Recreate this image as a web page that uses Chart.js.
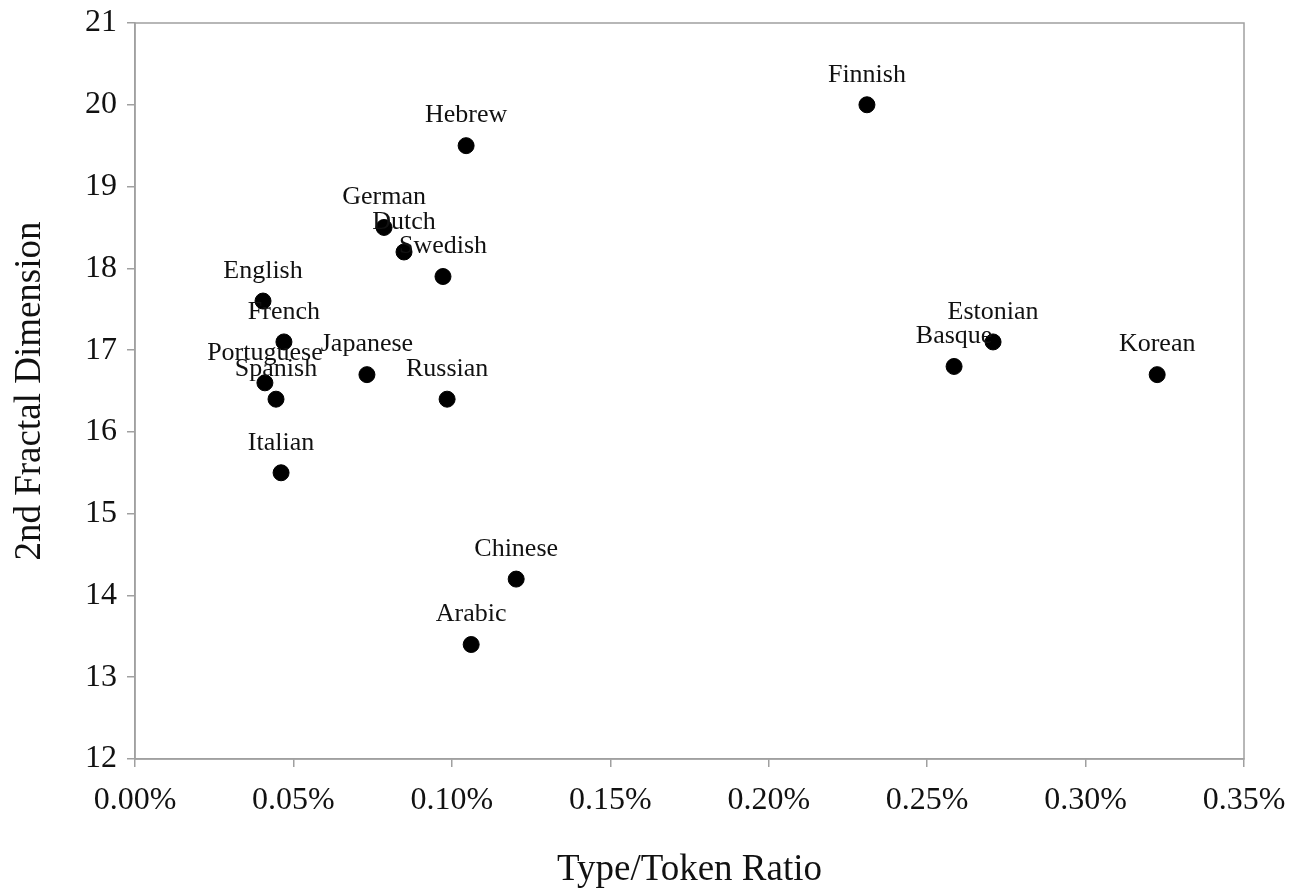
<!DOCTYPE html>
<html>
<head>
<meta charset="utf-8">
<script src="https://cdn.jsdelivr.net/npm/chart.js@4.4.0/dist/chart.umd.min.js"></script>
<style>
  html, body { margin: 0; padding: 0; background: #fff; }
  #wrap { width: 1305px; height: 892px; }
</style>
</head>
<body>
<div id="wrap"><canvas id="chart" width="1305" height="892"></canvas></div>
<script>
// languages and their values (type/token ratio in %, 2nd fractal dimension)
const languages = ['Finnish', 'Hebrew', 'German', 'Dutch', 'Swedish', 'English', 'French',
  'Portuguese', 'Spanish', 'Japanese', 'Russian', 'Italian', 'Chinese', 'Arabic',
  'Estonian', 'Basque', 'Korean'];
const typeToken = [0.231, 0.1045, 0.0786, 0.0849, 0.0972, 0.0404, 0.047,
  0.041, 0.0445, 0.0732, 0.0985, 0.0461, 0.1203, 0.1061,
  0.2708, 0.2585, 0.3226];
const fractalDim = [20.0, 19.5, 18.5, 18.2, 17.9, 17.6, 17.1,
  16.6, 16.4, 16.7, 16.4, 15.5, 14.2, 13.4,
  17.1, 16.8, 16.7];

const xTicks = { min: 0, max: 0.35, step: 0.05 };
const yTicks = { min: 12, max: 21, step: 1 };

const FONT = '"Liberation Serif", "DejaVu Serif", serif';
const AXIS_GRAY = '#a0a0a0';

const points = languages.map((name, i) => ({ x: typeToken[i], y: fractalDim[i], name }));

// names drawn just above each dot
const pointLabels = {
  id: 'pointLabels',
  afterDatasetsDraw(chart) {
    const ctx = chart.ctx;
    const meta = chart.getDatasetMeta(0);
    ctx.save();
    ctx.font = '26px ' + FONT;
    ctx.fillStyle = '#111';
    ctx.textAlign = 'center';
    ctx.textBaseline = 'middle';
    meta.data.forEach((el, i) => {
      ctx.fillText(points[i].name, el.x, el.y - 30);
    });
    ctx.restore();
  }
};

// thin box round the plot area
const frame = {
  id: 'frame',
  beforeDatasetsDraw(chart) {
    const { ctx, chartArea: a } = chart;
    ctx.save();
    ctx.strokeStyle = AXIS_GRAY;
    ctx.lineWidth = 1.5;
    ctx.strokeRect(a.left, a.top, a.right - a.left, a.bottom - a.top);
    ctx.restore();
  }
};

new Chart(document.getElementById('chart').getContext('2d'), {
  type: 'scatter',
  data: {
    datasets: [{
      data: points,
      backgroundColor: '#000',
      borderColor: '#000',
      pointRadius: 8,
      pointHoverRadius: 8
    }]
  },
  options: {
    responsive: false,
    animation: false,
    layout: { padding: { top: 23, right: 61, left: 0, bottom: 0 } },
    plugins: { legend: { display: false }, tooltip: { enabled: false } },
    scales: {
      x: {
        type: 'linear',
        min: xTicks.min,
        max: xTicks.max,
        afterFit: s => { s.height = 133; },
        ticks: {
          stepSize: xTicks.step,
          color: '#111',
          padding: 14,
          font: { family: FONT, size: 32 },
          callback: v => v.toFixed(2) + '%'
        },
        grid: { drawOnChartArea: false, drawTicks: true, tickLength: 8, color: AXIS_GRAY, lineWidth: 1.5 },
        border: { color: AXIS_GRAY, width: 1.5 },
        title: {
          display: true,
          text: 'Type/Token Ratio',
          color: '#111',
          font: { family: FONT, size: 37 },
          padding: { top: 0, bottom: 0 }
        }
      },
      y: {
        min: yTicks.min,
        max: yTicks.max,
        afterFit: s => { s.width = 135; s.paddingTop = 0; },
        ticks: {
          stepSize: yTicks.step,
          color: '#111',
          padding: 10,
          font: { family: FONT, size: 32 }
        },
        grid: { drawOnChartArea: false, drawTicks: true, tickLength: 8, color: AXIS_GRAY, lineWidth: 1.5 },
        border: { color: AXIS_GRAY, width: 1.5 },
        title: {
          display: true,
          text: '2nd Fractal Dimension',
          color: '#111',
          font: { family: FONT, size: 37 },
          padding: { top: 8, bottom: 0 }
        }
      }
    }
  },
  plugins: [frame, pointLabels]
});
</script>
</body>
</html>
